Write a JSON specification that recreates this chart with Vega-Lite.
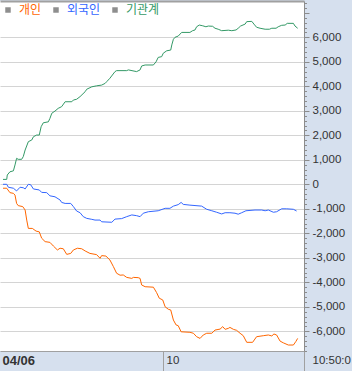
{
 "$schema": "https://vega.github.io/schema/vega-lite/v6.json",
 "width": 304, "height": 350,
 "autosize": {"type": "none"},
 "padding": {"left": 0, "top": 1, "right": 48, "bottom": 20},
 "background": "#d6e0ee",
 "config": {"view": {"fill": "#ffffff", "stroke": null}, "font": "Liberation Sans"},
 "datasets": {"d": [
  {"t":0,"v":200,"s":"기관계"},{"t":1.4,"v":200,"s":"기관계"},{"t":1.6,"v":380,"s":"기관계"},{"t":2.6,"v":510,"s":"기관계"},{"t":3.9,"v":550,"s":"기관계"},{"t":4.5,"v":790,"s":"기관계"},{"t":5.1,"v":1060,"s":"기관계"},{"t":5.7,"v":1020,"s":"기관계"},{"t":7.0,"v":1020,"s":"기관계"},{"t":7.6,"v":1130,"s":"기관계"},{"t":8.3,"v":1400,"s":"기관계"},{"t":9.5,"v":1740,"s":"기관계"},{"t":10.8,"v":1810,"s":"기관계"},{"t":11.4,"v":1940,"s":"기관계"},{"t":12.6,"v":2010,"s":"기관계"},{"t":13.6,"v":2010,"s":"기관계"},{"t":14.3,"v":2350,"s":"기관계"},{"t":15.1,"v":2510,"s":"기관계"},{"t":17.0,"v":2550,"s":"기관계"},{"t":17.6,"v":2690,"s":"기관계"},{"t":18.3,"v":2900,"s":"기관계"},{"t":19.5,"v":2990,"s":"기관계"},{"t":20.7,"v":3100,"s":"기관계"},{"t":22.0,"v":3170,"s":"기관계"},{"t":23.3,"v":3370,"s":"기관계"},{"t":25.8,"v":3370,"s":"기관계"},{"t":26.4,"v":3440,"s":"기관계"},{"t":27.6,"v":3470,"s":"기관계"},{"t":28.9,"v":3580,"s":"기관계"},{"t":30.8,"v":3780,"s":"기관계"},{"t":31.4,"v":3880,"s":"기관계"},{"t":33.3,"v":3980,"s":"기관계"},{"t":35.1,"v":4020,"s":"기관계"},{"t":37.0,"v":4050,"s":"기관계"},{"t":38.3,"v":4120,"s":"기관계"},{"t":38.9,"v":4190,"s":"기관계"},{"t":40.1,"v":4330,"s":"기관계"},{"t":42.0,"v":4600,"s":"기관계"},{"t":42.6,"v":4640,"s":"기관계"},{"t":46.4,"v":4640,"s":"기관계"},{"t":47.0,"v":4670,"s":"기관계"},{"t":50.1,"v":4600,"s":"기관계"},{"t":51.4,"v":4670,"s":"기관계"},{"t":52.0,"v":4830,"s":"기관계"},{"t":53.3,"v":4870,"s":"기관계"},{"t":56.4,"v":4870,"s":"기관계"},{"t":57.4,"v":5000,"s":"기관계"},{"t":58.2,"v":5180,"s":"기관계"},{"t":59.5,"v":5210,"s":"기관계"},{"t":60.1,"v":5350,"s":"기관계"},{"t":61.4,"v":5450,"s":"기관계"},{"t":62.9,"v":5480,"s":"기관계"},{"t":63.3,"v":5690,"s":"기관계"},{"t":63.9,"v":5920,"s":"기관계"},{"t":64.5,"v":6000,"s":"기관계"},{"t":65.7,"v":6050,"s":"기관계"},{"t":67.0,"v":6200,"s":"기관계"},{"t":70.1,"v":6200,"s":"기관계"},{"t":71.1,"v":6270,"s":"기관계"},{"t":72.0,"v":6300,"s":"기관계"},{"t":72.6,"v":6430,"s":"기관계"},{"t":73.6,"v":6500,"s":"기관계"},{"t":74.9,"v":6470,"s":"기관계"},{"t":76.1,"v":6430,"s":"기관계"},{"t":77.0,"v":6460,"s":"기관계"},{"t":78.6,"v":6450,"s":"기관계"},{"t":79.5,"v":6370,"s":"기관계"},{"t":80.7,"v":6330,"s":"기관계"},{"t":82.0,"v":6270,"s":"기관계"},{"t":84.5,"v":6290,"s":"기관계"},{"t":85.8,"v":6270,"s":"기관계"},{"t":87.4,"v":6300,"s":"기관계"},{"t":88.2,"v":6370,"s":"기관계"},{"t":89.1,"v":6460,"s":"기관계"},{"t":90.8,"v":6540,"s":"기관계"},{"t":91.4,"v":6640,"s":"기관계"},{"t":93.3,"v":6650,"s":"기관계"},{"t":94.1,"v":6540,"s":"기관계"},{"t":95.1,"v":6410,"s":"기관계"},{"t":96.4,"v":6370,"s":"기관계"},{"t":98.3,"v":6330,"s":"기관계"},{"t":99.9,"v":6330,"s":"기관계"},{"t":100.8,"v":6370,"s":"기관계"},{"t":102.4,"v":6370,"s":"기관계"},{"t":103.2,"v":6430,"s":"기관계"},{"t":104.5,"v":6490,"s":"기관계"},{"t":105.8,"v":6500,"s":"기관계"},{"t":106.6,"v":6570,"s":"기관계"},{"t":108.9,"v":6570,"s":"기관계"},{"t":109.5,"v":6460,"s":"기관계"},{"t":110.5,"v":6370,"s":"기관계"},
  {"t":0,"v":0,"s":"외국인"},{"t":1.4,"v":0,"s":"외국인"},{"t":2.0,"v":-120,"s":"외국인"},{"t":3.9,"v":-160,"s":"외국인"},{"t":5.1,"v":-270,"s":"외국인"},{"t":6.4,"v":-120,"s":"외국인"},{"t":7.6,"v":-140,"s":"외국인"},{"t":8.3,"v":-190,"s":"외국인"},{"t":9.5,"v":0,"s":"외국인"},{"t":10.4,"v":-20,"s":"외국인"},{"t":11.4,"v":-190,"s":"외국인"},{"t":13.6,"v":-230,"s":"외국인"},{"t":14.5,"v":-330,"s":"외국인"},{"t":16.4,"v":-340,"s":"외국인"},{"t":17.6,"v":-470,"s":"외국인"},{"t":19.5,"v":-510,"s":"외국인"},{"t":21.4,"v":-640,"s":"외국인"},{"t":22.0,"v":-740,"s":"외국인"},{"t":23.3,"v":-780,"s":"외국인"},{"t":25.4,"v":-780,"s":"외국인"},{"t":26.4,"v":-910,"s":"외국인"},{"t":27.6,"v":-1090,"s":"외국인"},{"t":28.9,"v":-1160,"s":"외국인"},{"t":30.1,"v":-1320,"s":"외국인"},{"t":31.4,"v":-1390,"s":"외국인"},{"t":33.3,"v":-1430,"s":"외국인"},{"t":34.5,"v":-1460,"s":"외국인"},{"t":36.4,"v":-1460,"s":"외국인"},{"t":37.0,"v":-1530,"s":"외국인"},{"t":40.8,"v":-1550,"s":"외국인"},{"t":42.0,"v":-1420,"s":"외국인"},{"t":44.5,"v":-1400,"s":"외국인"},{"t":46.4,"v":-1320,"s":"외국인"},{"t":48.3,"v":-1250,"s":"외국인"},{"t":50.1,"v":-1280,"s":"외국인"},{"t":51.4,"v":-1320,"s":"외국인"},{"t":52.6,"v":-1180,"s":"외국인"},{"t":54.5,"v":-1120,"s":"외국인"},{"t":58.2,"v":-1080,"s":"외국인"},{"t":60.8,"v":-980,"s":"외국인"},{"t":62.6,"v":-980,"s":"외국인"},{"t":63.9,"v":-890,"s":"외국인"},{"t":65.7,"v":-830,"s":"외국인"},{"t":66.8,"v":-740,"s":"외국인"},{"t":67.6,"v":-820,"s":"외국인"},{"t":70.1,"v":-850,"s":"외국인"},{"t":74.5,"v":-890,"s":"외국인"},{"t":76.4,"v":-1020,"s":"외국인"},{"t":78.3,"v":-1080,"s":"외국인"},{"t":80.1,"v":-1140,"s":"외국인"},{"t":82.0,"v":-1210,"s":"외국인"},{"t":83.3,"v":-1160,"s":"외국인"},{"t":85.1,"v":-1160,"s":"외국인"},{"t":87.0,"v":-1180,"s":"외국인"},{"t":88.2,"v":-1220,"s":"외국인"},{"t":89.5,"v":-1160,"s":"외국인"},{"t":91.1,"v":-1080,"s":"외국인"},{"t":94.5,"v":-1050,"s":"외국인"},{"t":97.0,"v":-1050,"s":"외국인"},{"t":98.3,"v":-1080,"s":"외국인"},{"t":99.5,"v":-1050,"s":"외국인"},{"t":101.4,"v":-1140,"s":"외국인"},{"t":102.6,"v":-1120,"s":"외국인"},{"t":104.5,"v":-1000,"s":"외국인"},{"t":106.4,"v":-1000,"s":"외국인"},{"t":108.9,"v":-1020,"s":"외국인"},{"t":110.1,"v":-1090,"s":"외국인"},
  {"t":0,"v":-160,"s":"개인"},{"t":1.4,"v":-160,"s":"개인"},{"t":2.6,"v":-340,"s":"개인"},{"t":3.9,"v":-370,"s":"개인"},{"t":4.5,"v":-440,"s":"개인"},{"t":5.1,"v":-780,"s":"개인"},{"t":5.7,"v":-870,"s":"개인"},{"t":7.4,"v":-910,"s":"개인"},{"t":8.3,"v":-1050,"s":"개인"},{"t":8.9,"v":-1460,"s":"개인"},{"t":9.5,"v":-1800,"s":"개인"},{"t":11.0,"v":-1800,"s":"개인"},{"t":12.4,"v":-1910,"s":"개인"},{"t":13.6,"v":-1940,"s":"개인"},{"t":14.5,"v":-2200,"s":"개인"},{"t":15.8,"v":-2340,"s":"개인"},{"t":17.6,"v":-2370,"s":"개인"},{"t":18.9,"v":-2520,"s":"개인"},{"t":20.4,"v":-2680,"s":"개인"},{"t":21.4,"v":-2610,"s":"개인"},{"t":22.6,"v":-2630,"s":"개인"},{"t":23.9,"v":-2860,"s":"개인"},{"t":25.4,"v":-2820,"s":"개인"},{"t":26.4,"v":-2680,"s":"개인"},{"t":27.9,"v":-2610,"s":"개인"},{"t":29.5,"v":-2630,"s":"개인"},{"t":30.8,"v":-2720,"s":"개인"},{"t":32.6,"v":-2820,"s":"개인"},{"t":35.1,"v":-2870,"s":"개인"},{"t":36.4,"v":-3020,"s":"개인"},{"t":37.0,"v":-2910,"s":"개인"},{"t":38.6,"v":-2930,"s":"개인"},{"t":40.1,"v":-3090,"s":"개인"},{"t":41.4,"v":-3360,"s":"개인"},{"t":42.6,"v":-3630,"s":"개인"},{"t":43.9,"v":-3710,"s":"개인"},{"t":45.1,"v":-3700,"s":"개인"},{"t":46.4,"v":-3800,"s":"개인"},{"t":48.3,"v":-3840,"s":"개인"},{"t":48.9,"v":-3800,"s":"개인"},{"t":50.7,"v":-3810,"s":"개인"},{"t":51.4,"v":-3840,"s":"개인"},{"t":52.0,"v":-4110,"s":"개인"},{"t":53.3,"v":-4180,"s":"개인"},{"t":56.4,"v":-4200,"s":"개인"},{"t":57.6,"v":-4420,"s":"개인"},{"t":58.6,"v":-4650,"s":"개인"},{"t":59.9,"v":-4720,"s":"개인"},{"t":60.8,"v":-5000,"s":"개인"},{"t":62.0,"v":-5100,"s":"개인"},{"t":62.9,"v":-5130,"s":"개인"},{"t":63.9,"v":-5540,"s":"개인"},{"t":64.9,"v":-5740,"s":"개인"},{"t":65.7,"v":-5770,"s":"개인"},{"t":66.8,"v":-6020,"s":"개인"},{"t":70.1,"v":-6040,"s":"개인"},{"t":71.4,"v":-6080,"s":"개인"},{"t":72.6,"v":-6220,"s":"개인"},{"t":73.9,"v":-6290,"s":"개인"},{"t":75.1,"v":-6150,"s":"개인"},{"t":76.4,"v":-6080,"s":"개인"},{"t":78.3,"v":-6080,"s":"개인"},{"t":79.5,"v":-5950,"s":"개인"},{"t":81.4,"v":-5910,"s":"개인"},{"t":82.4,"v":-5810,"s":"개인"},{"t":83.3,"v":-5920,"s":"개인"},{"t":84.5,"v":-5880,"s":"개인"},{"t":85.1,"v":-5840,"s":"개인"},{"t":86.4,"v":-5920,"s":"개인"},{"t":87.6,"v":-5960,"s":"개인"},{"t":88.9,"v":-6080,"s":"개인"},{"t":90.1,"v":-6180,"s":"개인"},{"t":91.4,"v":-6450,"s":"개인"},{"t":93.6,"v":-6450,"s":"개인"},{"t":95.1,"v":-6220,"s":"개인"},{"t":97.6,"v":-6180,"s":"개인"},{"t":99.5,"v":-6150,"s":"개인"},{"t":100.8,"v":-6190,"s":"개인"},{"t":101.6,"v":-6110,"s":"개인"},{"t":102.6,"v":-6150,"s":"개인"},{"t":103.9,"v":-6400,"s":"개인"},{"t":105.1,"v":-6470,"s":"개인"},{"t":107.0,"v":-6560,"s":"개인"},{"t":108.9,"v":-6560,"s":"개인"},{"t":109.8,"v":-6420,"s":"개인"},{"t":110.5,"v":-6290,"s":"개인"}
 ]},
 "data": {"name": "d"},
 "layer": [
  {
   "mark": {"type": "line", "strokeWidth": 1, "interpolate": "linear"},
   "encoding": {
    "x": {"field": "t", "type": "quantitative",
     "scale": {"domain": [-1.125, 112.875], "nice": false, "zero": false},
     "axis": {"orient": "bottom", "values": [-1.125, 60, 112.875],
      "labelExpr": "datum.value < 0 ? '04/06' : (datum.value < 100 ? '10' : '10:50:0')",
      "title": null, "grid": false, "domainColor": "#a0a0a0", "tickColor": "#a0a0a0", "tickSize": 20,
      "tickOpacity": {"condition": {"test": "datum.value < 0", "value": 0}, "value": 1},
      "labelPadding": -17, "labelAlign": "left", "labelBaseline": "top",
      "labelOffset": {"condition": [{"test": "datum.value < 0", "value": 2}, {"test": "datum.value > 100", "value": 8}], "value": 3},
      "labelFontWeight": {"condition": {"test": "datum.value < 0", "value": "bold"}, "value": "normal"},
      "labelFontSize": {"condition": {"test": "datum.value < 0", "value": 13}, "value": 11.5},
      "labelColor": "#333333", "labelFlush": false, "labelOverlap": false, "labelBound": false}},
    "y": {"field": "v", "type": "quantitative",
     "scale": {"domain": [-6804, 7482], "nice": false, "zero": false},
     "axis": {"orient": "right",
      "values": [-6800,-6600,-6400,-6200,-6000,-5800,-5600,-5400,-5200,-5000,-4800,-4600,-4400,-4200,-4000,-3800,-3600,-3400,-3200,-3000,-2800,-2600,-2400,-2200,-2000,-1800,-1600,-1400,-1200,-1000,-800,-600,-400,-200,0,200,400,600,800,1000,1200,1400,1600,1800,2000,2200,2400,2600,2800,3000,3200,3400,3600,3800,4000,4200,4400,4600,4800,5000,5200,5400,5600,5800,6000,6200,6400,6600,6800,7000,7200,7400],
      "labelExpr": "(datum.value % 1000 === 0 && abs(datum.value) <= 6000) ? replace(format(datum.value, ','), '−', '-') : ''",
      "title": null, "domainColor": "#8c8c8c", "tickColor": "#8c8c8c",
      "tickSize": {"condition": {"test": "datum.value % 1000 === 0", "value": 5}, "value": 2.5},
      "grid": true, "gridColor": "#d4d4d4",
      "gridOpacity": {"condition": {"test": "datum.value % 1000 === 0 && abs(datum.value) <= 6000", "value": 1}, "value": 0},
      "labelOverlap": false, "labelFlush": false, "labelBound": false, "labelPadding": 3,
      "labelFontSize": 11.5, "labelColor": "#333333", "labelBaseline": "middle", "labelAlign": "left"}},
    "color": {"field": "s", "type": "nominal",
     "scale": {"domain": ["개인", "외국인", "기관계"], "range": ["#ff6600", "#3366ff", "#339966"]},
     "legend": {"orient": "none", "legendX": 2, "legendY": 3, "direction": "horizontal", "title": null,
      "symbolType": "square", "symbolSize": 30, "symbolFillColor": "#8e8e8e", "symbolStrokeWidth": 0,
      "labelFont": "Noto Sans CJK KR", "labelFontSize": 12,
      "labelOffset": 5, "columnPadding": 8, "padding": 0,
      "encode": {"symbols": {"update": {"fill": {"value": "#8e8e8e"}, "strokeWidth": {"value": 0}, "strokeOpacity": {"value": 0}, "shape": {"value": "square"}, "size": {"value": 30}, "opacity": {"value": 1}}},
                 "labels": {"update": {"fill": {"scale": "color", "field": "value"}}}}}}
   }
  },
  {
   "mark": {"type": "line", "opacity": 0},
   "encoding": {
    "x": {"field": "t", "type": "quantitative",
     "axis": {"orient": "top", "domain": true, "domainColor": "#a0a0a0", "domainWidth": 2, "ticks": false, "labels": false, "grid": false, "title": null}},
    "y": {"field": "v", "type": "quantitative",
     "axis": {"orient": "right",
      "values": [-6800,-6600,-6400,-6200,-6000,-5800,-5600,-5400,-5200,-5000,-4800,-4600,-4400,-4200,-4000,-3800,-3600,-3400,-3200,-3000,-2800,-2600,-2400,-2200,-2000,-1800,-1600,-1400,-1200,-1000,-800,-600,-400,-200,0,200,400,600,800,1000,1200,1400,1600,1800,2000,2200,2400,2600,2800,3000,3200,3400,3600,3800,4000,4200,4400,4600,4800,5000,5200,5400,5600,5800,6000,6200,6400,6600,6800,7000,7200,7400],
      "labelExpr": "(datum.value % 1000 === 0 && abs(datum.value) <= 6000) ? replace(format(datum.value, ','), '−', '-') : ''",
      "title": null, "domainColor": "#8c8c8c", "tickColor": "#8c8c8c",
      "tickSize": {"condition": {"test": "datum.value % 1000 === 0", "value": 5}, "value": 2.5},
      "grid": true, "gridColor": "#d4d4d4",
      "gridOpacity": {"condition": {"test": "datum.value % 1000 === 0 && abs(datum.value) <= 6000", "value": 1}, "value": 0},
      "labelOverlap": false, "labelFlush": false, "labelBound": false, "labelPadding": 3,
      "labelFontSize": 11.5, "labelColor": "#333333", "labelBaseline": "middle", "labelAlign": "left"}},
    "detail": {"field": "s"}
   }
  }
 ],
 "resolve": {"axis": {"x": "independent"}}
}
